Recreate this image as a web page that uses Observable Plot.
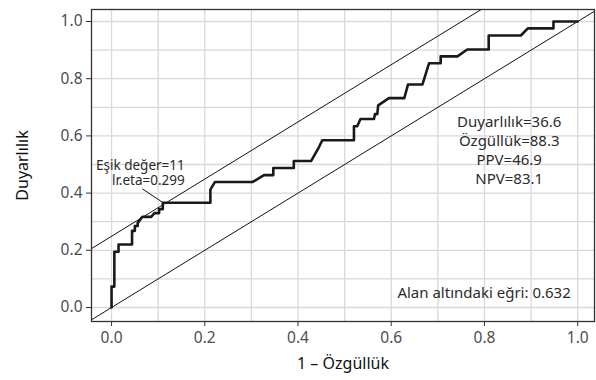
<!DOCTYPE html>
<html>
<head>
<meta charset="utf-8">
<script src="https://cdn.jsdelivr.net/npm/d3@7"></script>
<script src="https://cdn.jsdelivr.net/npm/@observablehq/plot@0.6"></script>
<style>
  html, body { margin: 0; padding: 0; background: #fff; }
  svg { display: block; }
</style>
</head>
<body>
<script>
// ---- Data ----
// ROC curve vertices: 1 - specificity (x) and sensitivity (y)
const fpr = [0, 0, 0.006, 0.006, 0.015, 0.015, 0.044, 0.044, 0.050, 0.050, 0.056, 0.056, 0.066, 0.085, 0.092, 0.102, 0.102, 0.110, 0.110,
  0.212, 0.212, 0.222, 0.303, 0.327, 0.347, 0.347, 0.391, 0.391, 0.428, 0.445, 0.452, 0.520, 0.520, 0.527, 0.534, 0.563, 0.565, 0.570,
  0.572, 0.595, 0.628, 0.636, 0.667, 0.681, 0.706, 0.706, 0.742, 0.763, 0.809, 0.809, 0.878, 0.893, 0.948, 0.948, 1.0];
const tpr = [0, 0.073, 0.073, 0.195, 0.195, 0.220, 0.220, 0.268, 0.268, 0.285, 0.285, 0.295, 0.317, 0.317, 0.330, 0.330, 0.344, 0.344, 0.366,
  0.366, 0.412, 0.439, 0.439, 0.463, 0.463, 0.488, 0.488, 0.512, 0.512, 0.561, 0.585, 0.585, 0.634, 0.634, 0.659, 0.659, 0.676, 0.676,
  0.707, 0.732, 0.732, 0.780, 0.780, 0.854, 0.854, 0.878, 0.878, 0.902, 0.902, 0.951, 0.951, 0.976, 0.976, 1.0, 1.0];

// Summary statistics
const sensitivity = 36.6;
const specificity = 88.3;
const ppv = 46.9;
const npv = 83.1;
const auc = 0.632;
const threshold = 11;
const lrEta = 0.299;

// Axis ticks and grid
const tickValues = [0, 0.2, 0.4, 0.6, 0.8, 1.0];
const gridValues = [0, 0.1, 0.2, 0.3, 0.4, 0.5, 0.6, 0.7, 0.8, 0.9, 1.0];
const xTitle = "1 – Özgüllük";
const yTitle = "Duyarlılık";

// ---- Derived ----
const roc = fpr.map((x, i) => ({x, y: tpr[i]}));
const cutX = 1 - specificity / 100;
const cutY = sensitivity / 100;
const xDomain = [-0.043, 1.036];
const yDomain = [-0.049, 1.042];
const yMid = (yDomain[0] + yDomain[1]) / 2;
// reference lines: chance diagonal and the parallel line through the cut-off point
const refIntercepts = [0, cutY - cutX];
const refLines = refIntercepts.flatMap((b, k) =>
  [xDomain[0] - 0.2, xDomain[1] + 0.2].map(x => ({k, x, y: x + b})));

const cutLabel = `Eşik değer=${threshold}\nlr.eta=${lrEta}`;
const statsLabel = `Duyarlılık=${sensitivity}\nÖzgüllük=${specificity}\nPPV=${ppv}\nNPV=${npv}`;
const aucLabel = `Alan altındaki eğri: ${auc}`;

const font = "'Noto Sans', 'Open Sans', sans-serif";

const chart = Plot.plot({
  width: 596,
  height: 380,
  marginLeft: 91,
  marginRight: 2,
  marginTop: 9,
  marginBottom: 59,
  style: {fontFamily: font, background: "#fff"},
  x: {domain: xDomain},
  y: {domain: yDomain},
  marks: [
    Plot.gridX(gridValues, {stroke: "#d9d9d9", strokeOpacity: 1, strokeWidth: 1.3}),
    Plot.gridY(gridValues, {stroke: "#d9d9d9", strokeOpacity: 1, strokeWidth: 1.3}),
    Plot.line(refLines, {x: "x", y: "y", z: "k", stroke: "#111", strokeWidth: 1, clip: true}),
    Plot.line(roc, {x: "x", y: "y", stroke: "#1a1a1a", strokeWidth: 2.6, strokeLinejoin: "round", clip: true}),
    Plot.link([{x1: cutX - 0.051, y1: cutY + 0.049, x2: cutX - 0.006, y2: cutY}],
      {x1: "x1", y1: "y1", x2: "x2", y2: "y2", stroke: "#111", strokeWidth: 1}),
    Plot.text([cutLabel], {x: 0.157, y: 0.517, text: d => d, textAnchor: "end", lineAnchor: "top", lineHeight: 1.1,
      fontSize: 13.5, fill: "#2b2b2b", ariaLabel: "box-cut"}),
    Plot.text([statsLabel], {x: 0.853, y: 0.677, text: d => d, textAnchor: "middle", lineAnchor: "top", lineHeight: 1.26,
      fontSize: 15, fill: "#2b2b2b", ariaLabel: "box-stats"}),
    Plot.text([aucLabel], {x: 0.985, y: 0.05, text: d => d, textAnchor: "end",
      fontSize: 15, fill: "#2b2b2b", ariaLabel: "box-auc"}),
    Plot.frame({stroke: "#333", strokeWidth: 1.3}),
    Plot.axisX(tickValues, {tickFormat: d3.format(".1f"), tickSize: 5, tickPadding: 5, fontSize: 15.5,
      color: "#4d4d4d", stroke: "#333", label: null}),
    Plot.axisY(tickValues, {tickFormat: d3.format(".1f"), tickSize: 5, tickPadding: 4, fontSize: 15.5,
      color: "#4d4d4d", stroke: "#333", label: null}),
    Plot.text([xTitle], {frameAnchor: "bottom", dy: 47, text: d => d, fontSize: 16, fill: "#111"}),
    Plot.text([yTitle], {x: xDomain[0], y: yMid, dx: -69, rotate: -90, text: d => d, fontSize: 16, fill: "#111"})
  ]
});
document.body.append(chart);

// white label backgrounds behind annotation texts
const boxPads = {"box-cut": [4, 1], "box-stats": [10, 2], "box-auc": [2, 2]};
const NS = "http://www.w3.org/2000/svg";
for (const [name, [px, py]] of Object.entries(boxPads)) {
  chart.querySelectorAll(`g[aria-label="${name}"] text`).forEach(t => {
    const b = t.getBBox();
    const r = document.createElementNS(NS, "rect");
    r.setAttribute("x", b.x - px);
    r.setAttribute("y", b.y - py);
    r.setAttribute("width", b.width + 2 * px);
    r.setAttribute("height", b.height + 2 * py);
    r.setAttribute("fill", "#fff");
    r.setAttribute("stroke", "none");
    const tr = t.getAttribute("transform");
    if (tr) r.setAttribute("transform", tr);
    t.parentNode.insertBefore(r, t);
  });
}
</script>
</body>
</html>
